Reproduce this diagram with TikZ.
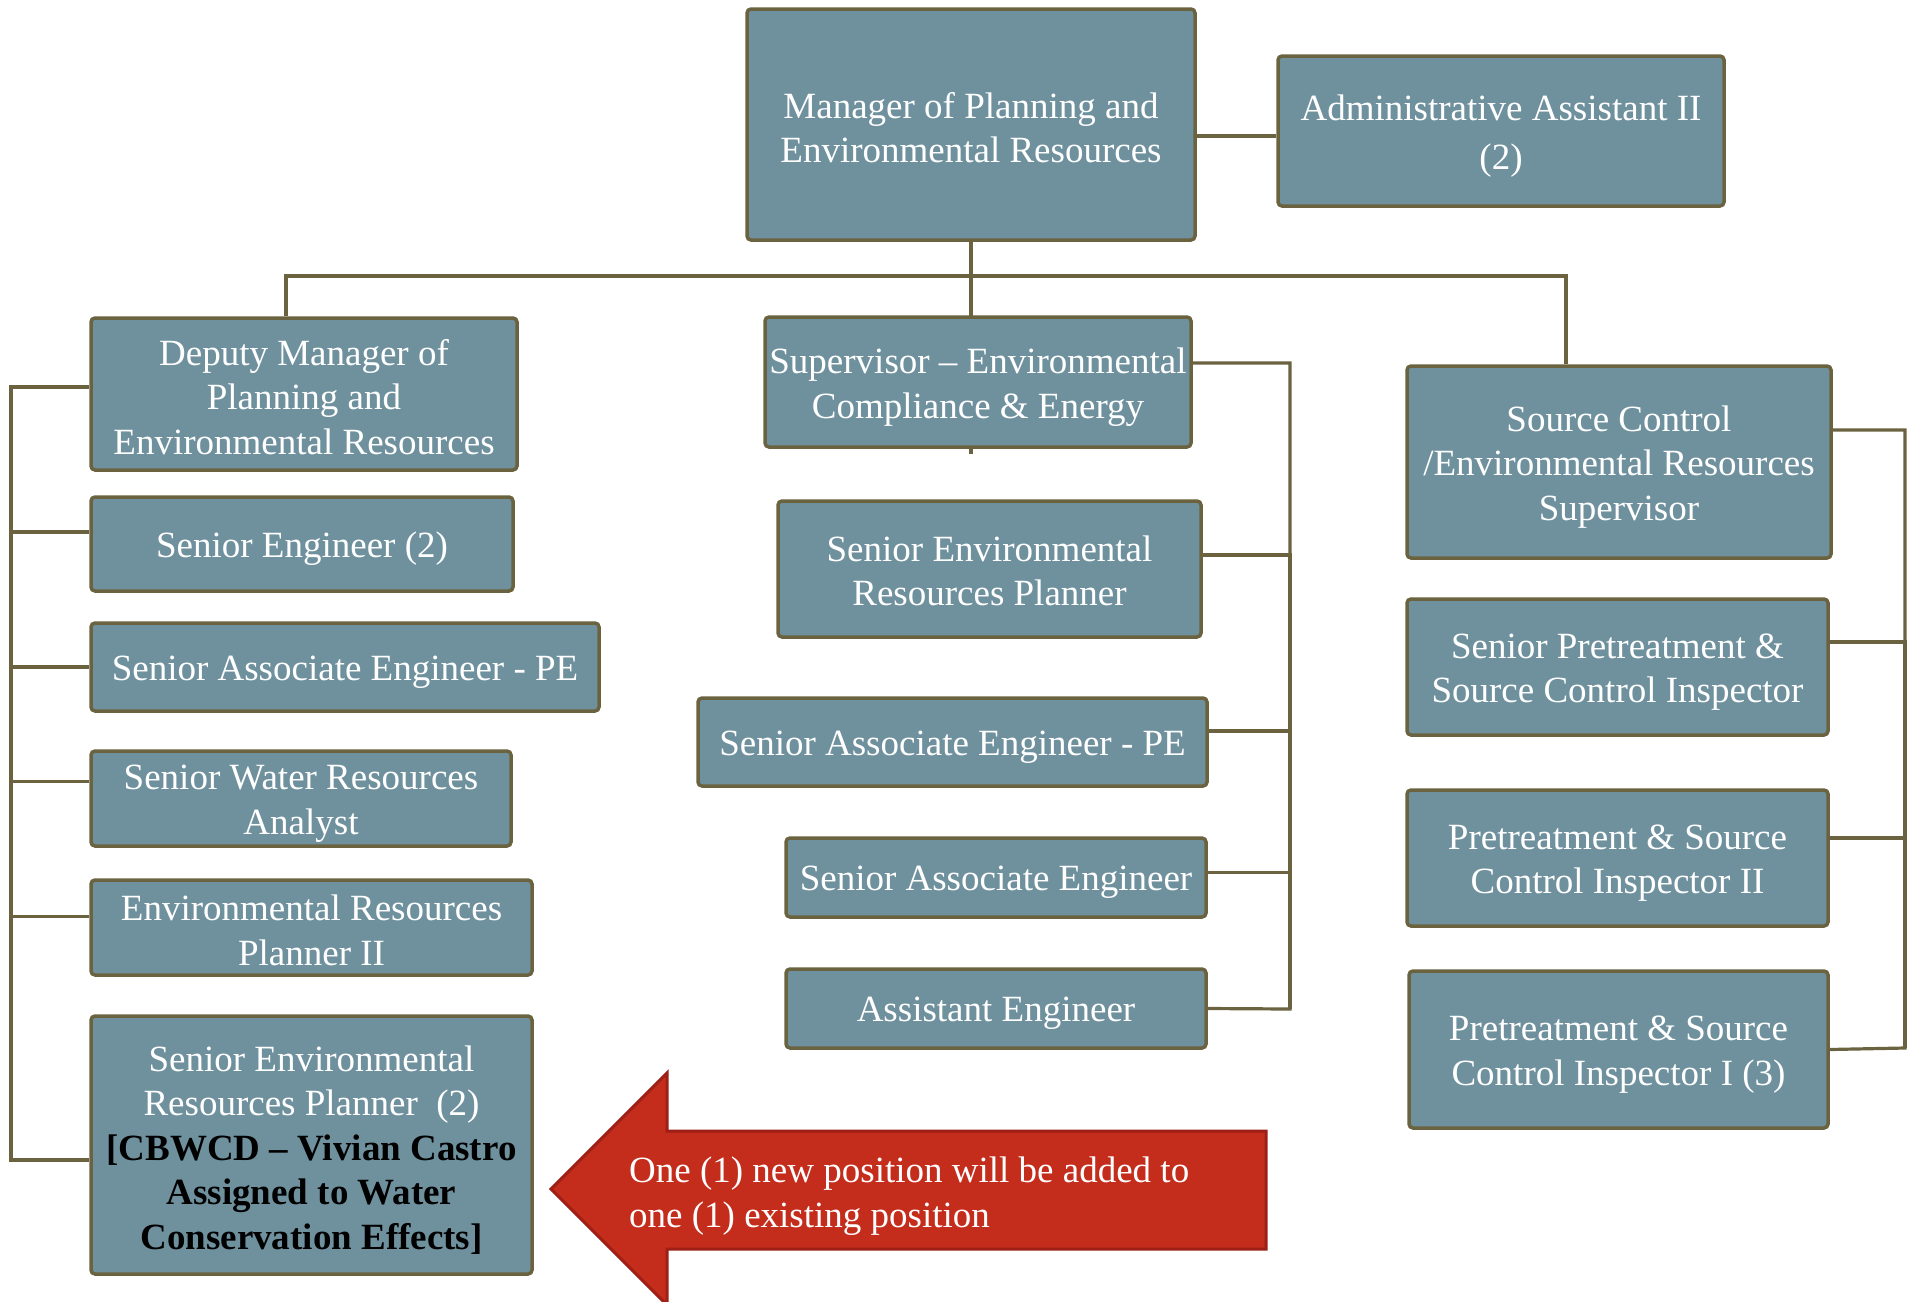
\documentclass[tikz,border=0pt]{standalone}
\usepackage{fontspec}
\setmainfont{Liberation Serif}
\usetikzlibrary{backgrounds}
\definecolor{boxfill}{RGB}{111,145,158}
\definecolor{boxline}{RGB}{107,99,64}
\definecolor{arrfill}{RGB}{196,44,28}
\definecolor{arrline}{RGB}{158,31,22}
\begin{document}
\begin{tikzpicture}[x=1pt,y=-1pt,
 orgbox/.style={draw=boxline, fill=boxfill, line width=3.5pt, rounded corners=4pt, inner sep=0pt},
 boxtext/.style={text=white, align=center, inner sep=0pt, yshift=-5pt, font=\fontsize{37}{44.5}\selectfont},
 link/.style={draw=boxline, line width=3.2pt},
 notetext/.style={text=white, align=left, anchor=west, inner sep=0pt, font=\fontsize{37}{44.5}\selectfont}]
\useasboundingbox (0,0) rectangle (1910,1301);
\begin{scope}[on background layer]
\fill[white] (0,0) rectangle (1910,1301);
\end{scope}

% top
\node[orgbox, minimum width=448, minimum height=231, label={[boxtext, yshift=2pt]center:{Manager of Planning and\\Environmental Resources}}] (mgr) at (971,124.5) {};
\node[orgbox, minimum width=446, minimum height=150, label={[boxtext]center:{Administrative Assistant II\\[4pt](2)}}] (adm) at (1501,131) {};

% second level
\node[orgbox, minimum width=426, minimum height=152, label={[boxtext, yshift=2pt]center:{Deputy Manager of\\Planning and\\Environmental Resources}}] (dep) at (304,394) {};
\node[orgbox, minimum width=426, minimum height=130, label={[boxtext]center:{Supervisor -- Environmental\\Compliance \& Energy}}] (sup) at (978,382) {};
\node[orgbox, minimum width=424, minimum height=192, label={[boxtext]center:{Source Control\\/Environmental Resources\\Supervisor}}] (src) at (1619,462) {};

% left column
\node[orgbox, minimum width=422, minimum height=94, label={[boxtext]center:{Senior Engineer (2)}}] (seng) at (302,544) {};
\node[orgbox, minimum width=508, minimum height=88, label={[boxtext]center:{Senior Associate Engineer - PE}}] (sae) at (345,667) {};
\node[orgbox, minimum width=420, minimum height=95, label={[boxtext]center:{Senior Water Resources\\Analyst}}] (swr) at (301,798.5) {};
\node[orgbox, minimum width=441, minimum height=95, label={[boxtext, yshift=2pt]center:{Environmental Resources\\Planner II}}] (erp) at (311.5,927.5) {};
\node[orgbox, minimum width=441, minimum height=258, label={[boxtext]center:{Senior Environmental\\Resources Planner\ \ (2)\\\textcolor{black}{\bfseries [CBWCD -- Vivian Castro}\\\textcolor{black}{\bfseries Assigned to Water}\\\textcolor{black}{\bfseries Conservation Effects]}}}] (serp) at (311.5,1145) {};

% middle column
\node[orgbox, minimum width=423, minimum height=136, label={[boxtext, yshift=3pt]center:{Senior Environmental\\Resources Planner}}] (serpm) at (989.5,569) {};
\node[orgbox, minimum width=509, minimum height=88, label={[boxtext]center:{Senior Associate Engineer - PE}}] (saepe) at (952.5,742) {};
\node[orgbox, minimum width=420, minimum height=79, label={[boxtext]center:{Senior Associate Engineer}}] (saeng) at (996,877.5) {};
\node[orgbox, minimum width=420, minimum height=79, label={[boxtext]center:{Assistant Engineer}}] (aeng) at (996,1008.5) {};

% right column
\node[orgbox, minimum width=421, minimum height=136, label={[boxtext]center:{Senior Pretreatment \&\\Source Control Inspector}}] (spsc) at (1617.5,667) {};
\node[orgbox, minimum width=421, minimum height=136, label={[boxtext]center:{Pretreatment \& Source\\Control Inspector II}}] (psctwo) at (1617.5,858) {};
\node[orgbox, minimum width=419, minimum height=157, label={[boxtext]center:{Pretreatment \& Source\\Control Inspector I (3)}}] (pscone) at (1618.5,1049.5) {};

% connectors
\coordinate (j) at (971,276);
\coordinate (lsb) at (11,1160);
\coordinate (msb) at (1290,1009);
\coordinate (rsb) at (1905,1048);
\begin{scope}[on background layer]
\draw[link] (mgr.south) -- ([yshift=-5pt]mgr.south |- sup.south);
\end{scope}
\draw[link] ([yshift=-5pt]adm.west) -- ([yshift=-5pt]adm.west -| mgr.east);
\draw[link] ([xshift=-18pt]dep.north) |- (j) -| ([xshift=-53pt]src.north);

\draw[link] ([yshift=7pt]dep.west) -| (lsb) -- ([yshift=-15pt]serp.west);
\draw[link] ([yshift=12pt]seng.west) -| (lsb);
\draw[link] (sae.west) -| (lsb);
\draw[link] ([yshift=17pt]swr.west) -| (lsb);
\draw[link] ([yshift=11pt]erp.west) -| (lsb);

\draw[link] ([yshift=19pt]sup.east) -| (msb) -- (aeng.east);
\draw[link] ([yshift=14pt]serpm.east) -| (msb);
\draw[link] ([yshift=11pt]saepe.east) -| (msb);
\draw[link] ([yshift=5pt]saeng.east) -| (msb);

\draw[link] ([yshift=32pt]src.east) -| (rsb) -- (pscone.east);
\draw[link] ([yshift=25pt]spsc.east) -| (rsb);
\draw[link] ([yshift=20pt]psctwo.east) -| (rsb);

% red arrow
\draw[draw=arrline, fill=arrfill, line width=3pt, line join=miter] (551,1189) -- (667,1073) -- (667,1131) -- (1266,1131) -- (1266,1249) -- (667,1249) -- (667,1305) -- cycle;
\node[notetext] (note) at (629,1196) {One (1) new position will be added to\\one (1) existing position};
\end{tikzpicture}
\end{document}
